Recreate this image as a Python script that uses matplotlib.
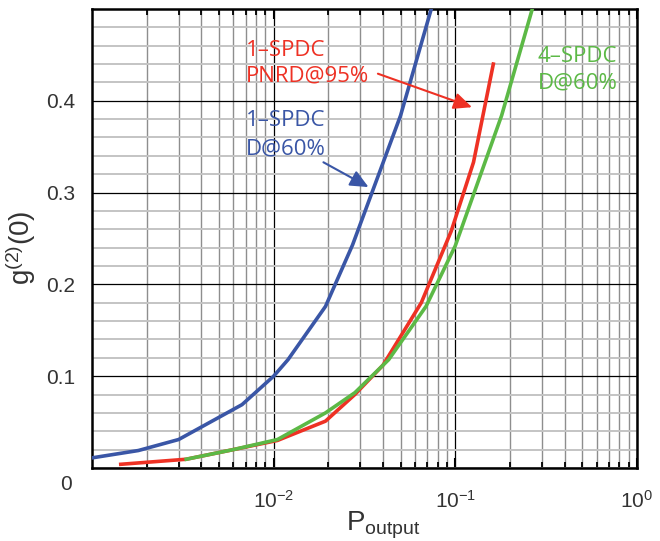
import matplotlib
matplotlib.use("Agg")
import matplotlib.pyplot as plt
from matplotlib.ticker import LogLocator, LogFormatterMathtext, MultipleLocator, NullFormatter

plt.rcParams["font.family"] = ["Liberation Sans", "DejaVu Sans"]
plt.rcParams["mathtext.fontset"] = "custom"
plt.rcParams["mathtext.rm"] = "Liberation Sans"
plt.rcParams["mathtext.it"] = "Liberation Sans:italic"

# data
blue_x = [1.0e-3, 1.8e-3, 3.0e-3, 6.7e-3, 1.0e-2, 1.2e-2, 1.93e-2, 2.72e-2, 5.0e-2, 7.5e-2]
blue_y = [0.011, 0.019, 0.031, 0.069, 0.100, 0.118, 0.176, 0.243, 0.384, 0.505]

red_x = [1.44e-3, 3.3e-3, 6.0e-3, 1.05e-2, 1.93e-2, 2.8e-2, 4.0e-2, 6.5e-2, 9.5e-2, 1.26e-1, 1.62e-1]
red_y = [0.004, 0.0095, 0.020, 0.030, 0.051, 0.080, 0.112, 0.180, 0.258, 0.333, 0.44]

green_x = [3.3e-3, 6.0e-3, 1.05e-2, 1.93e-2, 2.8e-2, 4.3e-2, 6.9e-2, 1.0e-1, 1.8e-1, 2.7e-1]
green_y = [0.0095, 0.020, 0.031, 0.060, 0.082, 0.118, 0.176, 0.242, 0.384, 0.505]

blue = "#3a56a6"
red = "#ee3124"
green = "#5cb946"

fig = plt.figure(figsize=(6.6, 5.41), dpi=100)
ax = fig.add_axes([0.1394, 0.135, 0.8256, 0.8484])

ax.plot(blue_x, blue_y, color=blue, lw=2.6, zorder=3)
ax.plot(red_x, red_y, color=red, lw=2.6, zorder=3)
ax.plot(green_x, green_y, color=green, lw=2.6, zorder=4)

ax.set_xscale("log")
ax.set_xlim(1e-3, 1)
ax.set_ylim(0, 0.5)

ax.xaxis.set_major_locator(LogLocator(base=10, numticks=10))
ax.xaxis.set_minor_locator(LogLocator(base=10, subs=range(2, 10), numticks=20))
ax.xaxis.set_major_formatter(LogFormatterMathtext())
ax.xaxis.set_minor_formatter(NullFormatter())
ax.set_xticks([1e-2, 1e-1, 1])
ax.yaxis.set_major_locator(MultipleLocator(0.1))
ax.yaxis.set_minor_locator(MultipleLocator(0.02))
ax.set_yticks([0.1, 0.2, 0.3, 0.4])

ax.grid(which="major", color="black", lw=0.9, zorder=1)
ax.grid(which="minor", axis="x", color="#8e8e8e", lw=1.0, zorder=0)
ax.grid(which="minor", axis="y", color="#c4c4c4", lw=1.4, zorder=0)
ax.set_axisbelow(True)

ax.tick_params(axis="x", which="both", direction="in", top=True, bottom=True,
               labelsize=15, labelcolor="#333333", pad=16)
ax.tick_params(axis="x", which="major", length=7, width=1.5)
ax.tick_params(axis="x", which="minor", length=4, width=1.3)
ax.tick_params(axis="y", which="both", length=0, labelsize=15, labelcolor="#333333", pad=12)

for s in ax.spines.values():
    s.set_linewidth(1.8)
    s.set_color("black")

ax.text(-0.048, -0.037, "0", transform=ax.transAxes, fontsize=15, color="#333333",
        ha="center", va="center")

ax.set_ylabel(r"g$^{\mathregular{(2)}}$(0)", fontsize=20, color="#333333")
ax.yaxis.set_label_coords(-0.1, 0.48)
ax.set_xlabel(r"P$_{\mathregular{output}}$", fontsize=20, color="#333333")
ax.xaxis.set_label_coords(0.535, -0.09)

tf = ["Open Sans", "DejaVu Sans"]
ax.text(7.0e-3, 0.449, "1\u2013SPDC", color=red, fontsize=16, family=tf, va="baseline")
ax.text(7.0e-3, 0.4208, "PNRD@95%", color=red, fontsize=16, family=tf, va="baseline")
ax.text(7.0e-3, 0.3727, "1\u2013SPDC", color=blue, fontsize=16, family=tf, va="baseline")
ax.text(7.0e-3, 0.342, "D@60%", color=blue, fontsize=16, family=tf, va="baseline")
ax.text(0.2836, 0.4426, "4\u2013SPDC", color=green, fontsize=16, family=tf, va="baseline")
ax.text(0.2836, 0.4131, "D@60%", color=green, fontsize=16, family=tf, va="baseline")

ax.annotate("", xy=(0.1236, 0.393), xytext=(0.0375, 0.4295),
            arrowprops=dict(arrowstyle="-|>,head_length=1.1,head_width=0.5",
                            color=red, lw=1.5, shrinkA=0, shrinkB=0), zorder=5)
ax.annotate("", xy=(0.0333, 0.306), xytext=(0.0188, 0.333),
            arrowprops=dict(arrowstyle="-|>,head_length=1.1,head_width=0.5",
                            color=blue, lw=1.5, shrinkA=0, shrinkB=0), zorder=5)

fig.savefig("out.png", dpi=100)
